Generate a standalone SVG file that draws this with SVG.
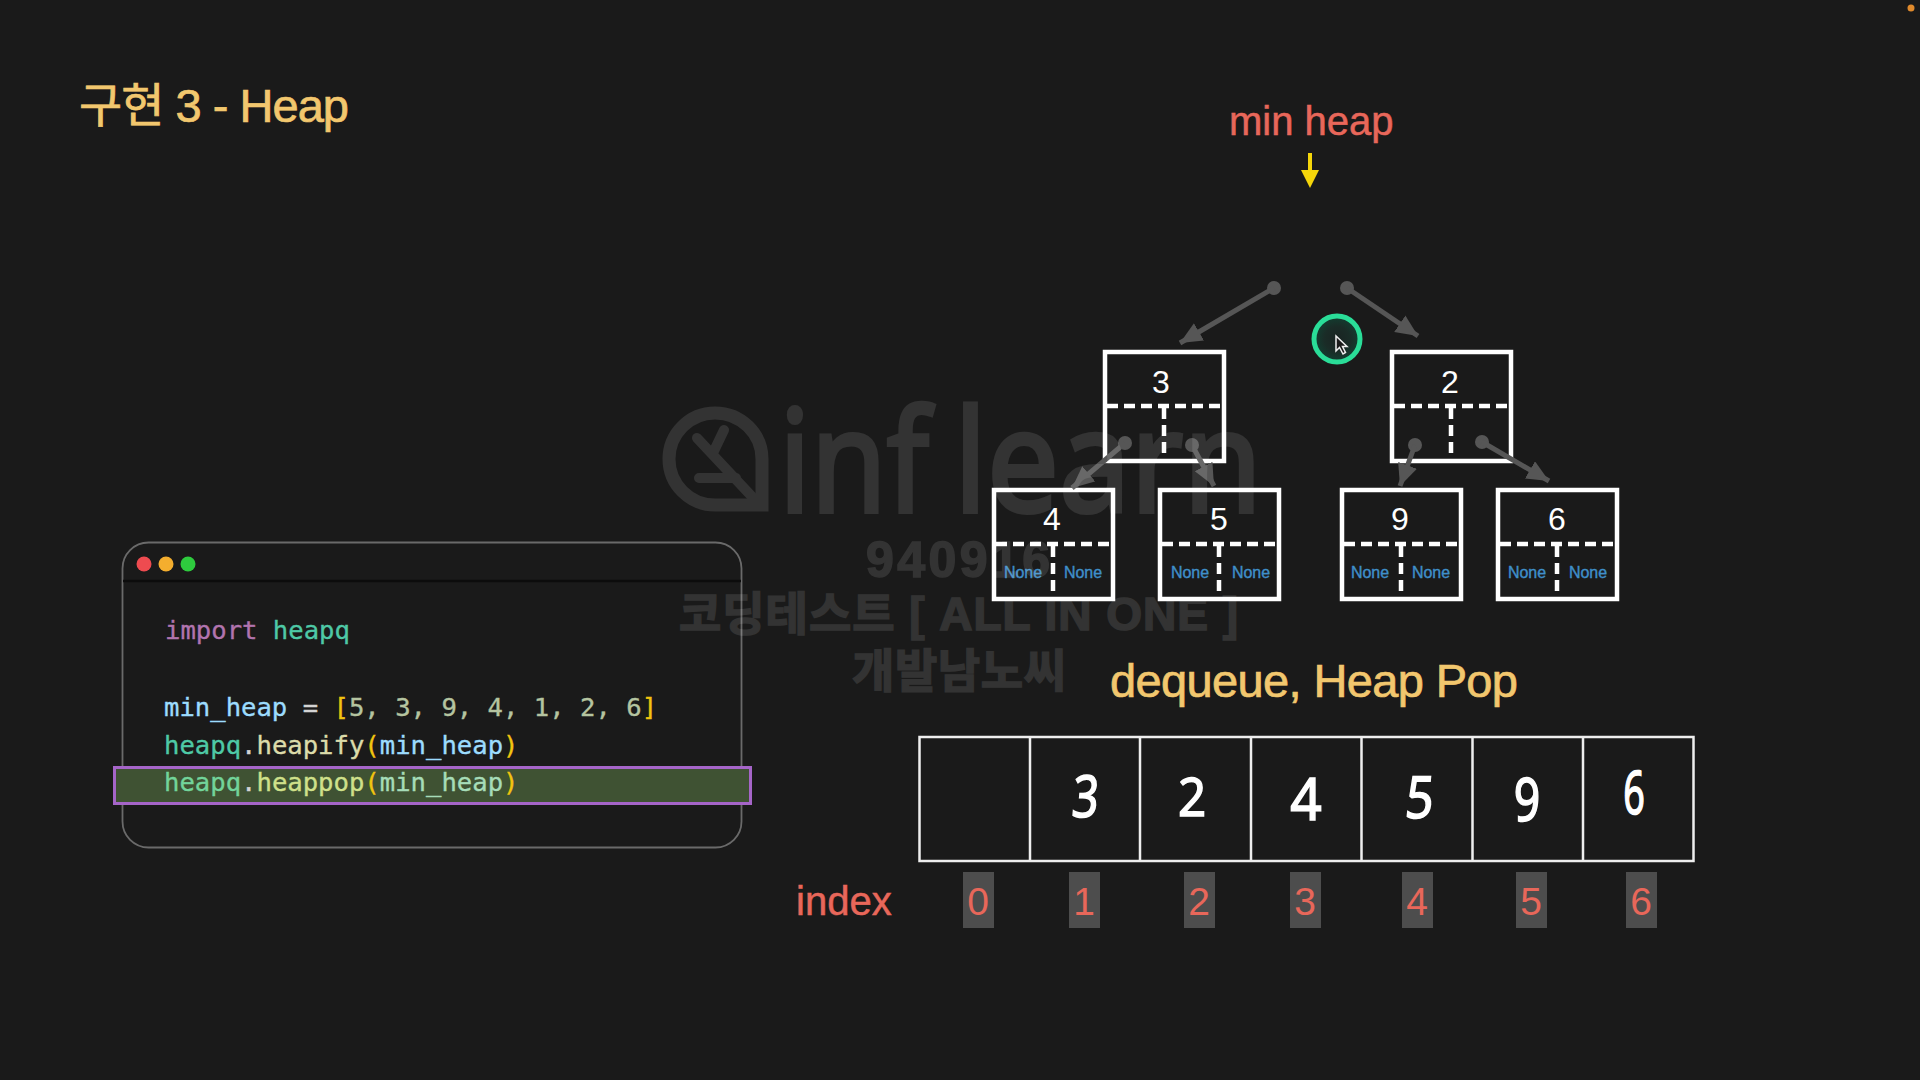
<svg xmlns="http://www.w3.org/2000/svg" width="1920" height="1080" viewBox="0 0 1920 1080">
<style>
.title{font-family:"Liberation Sans","Noto Sans CJK KR",sans-serif;font-size:47px;fill:#f2c76e;stroke:#f2c76e;stroke-width:.7;letter-spacing:-1px}
.red{font-family:"Liberation Sans",sans-serif;font-size:40px;fill:#e8675a;stroke:#e8675a;stroke-width:.5}
.box{fill:none;stroke:#fff;stroke-width:4.5}
.dash{stroke:#fff;stroke-width:4.5;stroke-dasharray:11 6;fill:none}
.val{font-family:"Liberation Sans",sans-serif;font-size:32px;fill:#fff;text-anchor:middle}
.none{font-family:"Liberation Sans",sans-serif;font-size:16px;fill:#3f8fc9;stroke:#3f8fc9;stroke-width:.4;text-anchor:middle}
.code{font-family:"DejaVu Sans Mono",monospace;font-size:25.6px;stroke-width:.35}
.kw{fill:#b174ae;stroke:#b174ae}.mod{fill:#4ec9a6;stroke:#4ec9a6}.var{fill:#9cdcfe;stroke:#9cdcfe}.op{fill:#d4d4d4;stroke:#d4d4d4}
.br{fill:#f1c40f;stroke:#f1c40f}.num{fill:#b5c4a0;stroke:#b5c4a0}.fn{fill:#dcdcaa;stroke:#dcdcaa}
.mod2{fill:#72d49a;stroke:#72d49a}.fn2{fill:#cfe08a;stroke:#cfe08a}.var2{fill:#a6dcb8;stroke:#a6dcb8}
.idx{fill:#4d4d4d}
.idxt{font-family:"Liberation Sans",sans-serif;font-size:39px;fill:#e8675a;text-anchor:middle}
.hand{font-family:"Noto Sans",sans-serif;font-size:58px;fill:#fff;stroke:#fff;stroke-width:1.500;text-anchor:middle}
.conn{stroke:#565656;stroke-width:5;fill:none;marker-end:url(#head)}
.dot{fill:#565656}
.wmk{font-family:"Liberation Sans","Noto Sans CJK KR",sans-serif;font-weight:bold;font-size:46px;stroke:#fff;stroke-width:1.500;fill:#fff}
.wml{font-family:"Noto Sans",sans-serif;font-size:142px;stroke:#fff;stroke-width:4;fill:#fff}
.cell{stroke:#eee;stroke-width:2.5;fill:none}
</style>
<defs>
<marker id="head" markerUnits="userSpaceOnUse" markerWidth="24" markerHeight="22" refX="22" refY="10" orient="auto"><path d="M0 0L22 10L0 20Z" fill="#565656"/></marker>
<radialGradient id="halo"><stop offset="0" stop-color="#1a2422"/><stop offset=".55" stop-color="#1a2c27"/><stop offset="1" stop-color="#123f31"/></radialGradient>
</defs>
<rect width="1920" height="1080" fill="#1a1a1a"/>
<circle cx="1911" cy="8" r="3.500" fill="#e08a2c"/>
<text id="title" class="title" x="79" y="122" textLength="269" lengthAdjust="spacing">구현 3 - Heap</text>

<g id="code-panel">
<rect x="122.500" y="542.500" width="619" height="305" rx="26" fill="#1a1a1a" stroke="#6a6a6a" stroke-width="1.800"/>
<line x1="123" y1="581" x2="741" y2="581" stroke="#0c0c0c" stroke-width="2.500"/>
<circle cx="144" cy="564" r="7.500" fill="#ee4b50"/>
<circle cx="166" cy="564" r="7.500" fill="#f4ae2e"/>
<circle cx="188" cy="564" r="7.500" fill="#2ecb3e"/>
<rect x="114.500" y="767.500" width="636" height="36" fill="#3f5233" stroke="#a565c8" stroke-width="3"/>
<text class="code" x="165" y="639"><tspan class="kw">import</tspan><tspan class="mod"> heapq</tspan></text>
<text class="code" x="164" y="716"><tspan class="var">min_heap</tspan><tspan class="op"> = </tspan><tspan class="br">[</tspan><tspan class="num">5, 3, 9, 4, 1, 2, 6</tspan><tspan class="br">]</tspan></text>
<text class="code" x="164" y="754"><tspan class="mod">heapq</tspan><tspan class="op">.</tspan><tspan class="fn">heapify</tspan><tspan class="br">(</tspan><tspan class="var">min_heap</tspan><tspan class="br">)</tspan></text>
<text class="code" x="164" y="791"><tspan class="mod2">heapq</tspan><tspan class="op">.</tspan><tspan class="fn2">heappop</tspan><tspan class="br">(</tspan><tspan class="var2">min_heap</tspan><tspan class="br">)</tspan></text>
</g>

<g id="min-heap-label">
<text class="red" x="1229" y="135">min heap</text>
<path d="M1310 153V172" stroke="#f5d60a" stroke-width="4" fill="none"/>
<path d="M1301 170H1319L1310 188Z" fill="#f5d60a"/>
</g>

<g id="node-3">
<rect class="box" x="1105" y="352" width="119" height="109"/>
<path class="dash" d="M1107 406H1222M1164 408V459"/>
<text class="val" x="1161" y="393">3</text>
</g>
<g id="node-2">
<rect class="box" x="1392" y="352" width="119" height="109"/>
<path class="dash" d="M1394 406H1509M1451 408V459"/>
<text class="val" x="1450" y="393">2</text>
</g>
<g id="node-4">
<rect class="box" x="994" y="490" width="119" height="109"/>
<path class="dash" d="M996 544H1111M1053 546V597"/>
<text class="val" x="1052" y="530">4</text>
<text class="none" x="1023" y="578">None</text><text class="none" x="1083" y="578">None</text>
</g>
<g id="node-5">
<rect class="box" x="1160" y="490" width="119" height="109"/>
<path class="dash" d="M1162 544H1277M1219 546V597"/>
<text class="val" x="1219" y="530">5</text>
<text class="none" x="1190" y="578">None</text><text class="none" x="1251" y="578">None</text>
</g>
<g id="node-9">
<rect class="box" x="1342" y="490" width="119" height="109"/>
<path class="dash" d="M1344 544H1459M1401 546V597"/>
<text class="val" x="1400" y="530">9</text>
<text class="none" x="1370" y="578">None</text><text class="none" x="1431" y="578">None</text>
</g>
<g id="node-6">
<rect class="box" x="1498" y="490" width="119" height="109"/>
<path class="dash" d="M1500 544H1615M1557 546V597"/>
<text class="val" x="1557" y="530">6</text>
<text class="none" x="1527" y="578">None</text><text class="none" x="1588" y="578">None</text>
</g>

<g id="connectors">
<circle class="dot" cx="1274" cy="288" r="7"/><line class="conn" x1="1274" y1="288" x2="1180" y2="343"/>
<circle class="dot" cx="1347" cy="288" r="7"/><line class="conn" x1="1347" y1="288" x2="1418" y2="336"/>
<circle class="dot" cx="1125" cy="443" r="7"/><line class="conn" x1="1125" y1="443" x2="1072" y2="488"/>
<circle class="dot" cx="1192" cy="445" r="7"/><line class="conn" x1="1192" y1="445" x2="1214" y2="486"/>
<circle class="dot" cx="1415" cy="445" r="7"/><line class="conn" x1="1415" y1="445" x2="1400" y2="486"/>
<circle class="dot" cx="1482" cy="442" r="7"/><line class="conn" x1="1482" y1="442" x2="1549" y2="481"/>
</g>

<g id="cursor">
<circle cx="1337" cy="339" r="23" fill="url(#halo)" stroke="#2add98" stroke-width="5"/>
<path d="M1336 336V351L1339.500 347.500L1343 354L1345.500 352.500L1342.500 346.500H1347Z" fill="#1a1a1a" stroke="#eee" stroke-width="1.500"/>
</g>

<text id="caption" class="title" x="1110" y="697" textLength="407" lengthAdjust="spacing">dequeue, Heap Pop</text>

<g id="array">
<rect class="cell" x="919.500" y="737" width="774" height="124" stroke-width="3"/>
<path class="cell" d="M1030 737V861M1140 737V861M1251 737V861M1361.500 737V861M1472.500 737V861M1583 737V861"/>
<text class="hand" transform="translate(1084 817) scale(.8 1) skewX(-6)">3</text>
<text class="hand" transform="translate(1192 816) scale(.85 .9)">2</text>
<text class="hand" transform="translate(1306 820) scale(.95 1)">4</text>
<text class="hand" transform="translate(1418 818) scale(.85 1) skewX(-6)">5</text>
<text class="hand" transform="translate(1527 821) scale(.8 1.050)">9</text>
<text class="hand" transform="translate(1634 814) scale(.65 1.050)">6</text>
</g>

<g id="index">
<text class="red" x="796" y="915">index</text>
<rect class="idx" x="963" y="872" width="31" height="56"/><text class="idxt" x="978" y="915">0</text>
<rect class="idx" x="1069" y="872" width="31" height="56"/><text class="idxt" x="1084" y="915">1</text>
<rect class="idx" x="1184" y="872" width="31" height="56"/><text class="idxt" x="1199" y="915">2</text>
<rect class="idx" x="1290" y="872" width="31" height="56"/><text class="idxt" x="1305" y="915">3</text>
<rect class="idx" x="1402" y="872" width="31" height="56"/><text class="idxt" x="1417" y="915">4</text>
<rect class="idx" x="1516" y="872" width="31" height="56"/><text class="idxt" x="1531" y="915">5</text>
<rect class="idx" x="1626" y="872" width="31" height="56"/><text class="idxt" x="1641" y="915">6</text>
</g>

<g id="watermark" opacity=".105">
<path d="M715 413A46 46 0 0 0 715 505H762V459A47 46 0 0 0 715 413Z" fill="none" stroke="#fff" stroke-width="13"/>
<path d="M697 438L758 503M724 430L713 453M699 478H736" fill="none" stroke="#fff" stroke-width="10" stroke-linecap="round"/>
<text class="wml" x="779" y="512" textLength="150" lengthAdjust="spacingAndGlyphs">inf</text>
<text class="wml" x="954" y="512" textLength="308" lengthAdjust="spacingAndGlyphs">learn</text>
<text class="wmk" x="866" y="577" textLength="184" style="font-size:50px">940916</text>
<text class="wmk" x="679" y="630" textLength="559">코딩테스트 [ ALL IN ONE ]</text>
<text class="wmk" x="852" y="687" textLength="214">개발남노씨</text>
</g>
</svg>
